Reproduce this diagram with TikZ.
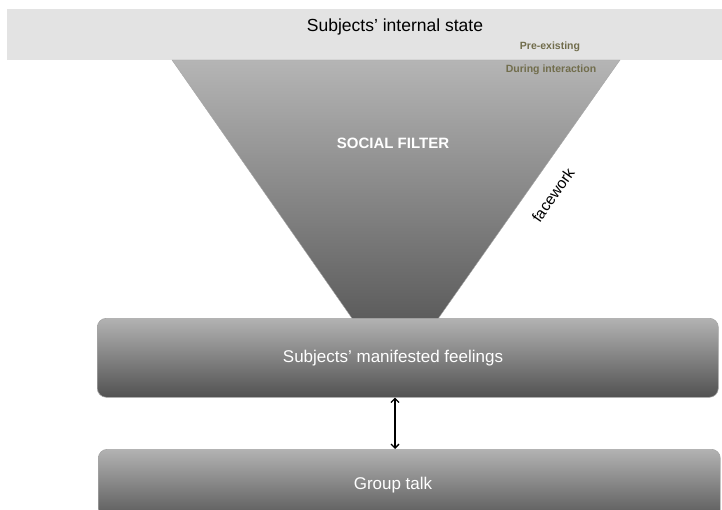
\documentclass[tikz,border=0pt]{standalone}
\usepackage{fontspec}
\setmainfont{Liberation Sans}
\usetikzlibrary{arrows.meta}
\begin{document}
\begin{tikzpicture}[x=1pt,y=-1pt,
  gbox/.style={draw=gray!70, rounded corners=9pt, top color=gray!60, bottom color=gray!40!black!85, line width=0.6pt},
  wtext/.style={text=white, font=\fontsize{17}{20}\selectfont},
  smalllab/.style={text=olive!40!black!80, font=\bfseries\fontsize{10.5}{12}\selectfont},
  link/.style={{Straight Barb[length=4pt,width=8pt]}-{Straight Barb[length=4pt,width=8pt]}, line width=1.3pt}]
\useasboundingbox (0,0) rectangle (722,510);
% top band
\fill[gray!22] (7,9) rectangle (722,60);
\node[font=\fontsize{17.5}{20}\selectfont] (state) at (395,27) {Subjects’ internal state};
% funnel
\shade[top color=gray!58, bottom color=gray!40!black!90, draw=gray!70]
  (172,60) -- (620,60) -- (395,380) -- cycle;
\node[smalllab] (pre) at (550,47) {Pre-existing};
\node[smalllab] (during) at (551,70) {During interaction};
\node[text=white, font=\bfseries\fontsize{15}{18}\selectfont] (filter) at (393,143) {SOCIAL FILTER};
\node[rotate=55, font=\fontsize{15.5}{18}\selectfont, inner sep=1pt] (face) at (553,195) {facework};
% boxes
\node[gbox, minimum width=621pt, minimum height=79pt, anchor=north west, inner sep=0pt] (mf) at (97,318) {};
\node[wtext] (mftext) at (393,358) {Subjects’ manifested feelings};
\node[gbox, minimum width=622pt, minimum height=75pt, anchor=north west, inner sep=0pt] (gt) at (98,449) {};
\node[wtext] (gttext) at (393,485) {Group talk};
\coordinate (ax) at (395,0);
\draw[link] (mf.south -| ax) -- (gt.north -| ax);
\end{tikzpicture}
\end{document}
